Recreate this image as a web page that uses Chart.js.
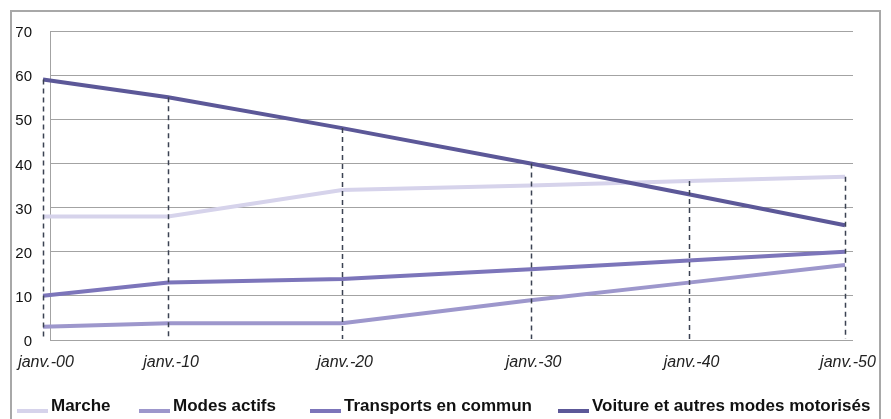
<!DOCTYPE html>
<html lang="fr">
<head>
    <meta charset="UTF-8">
    <title>Parts modales</title>
    <style>
        html, body {
            margin: 0;
            padding: 0;
            background: #ffffff;
            overflow: hidden;
        }
        .frame {
            position: absolute;
            left: 10px;
            top: 10px;
            width: 867px;
            height: 440px;
            border: 2px solid #a8a8a8;
        }
        #chart {
            position: absolute;
            left: 0;
            top: 0;
        }
        .legend {
            position: absolute;
            top: 396px;
            left: 0;
            font-family: "Liberation Sans", Arial, sans-serif;
            font-weight: bold;
            font-size: 17px;
            color: #111;
        }
        .legend-item {
            position: absolute;
            white-space: nowrap;
            display: flex;
            align-items: flex-end;
        }
        .legend-line {
            display: inline-block;
            width: 31px;
            height: 4px;
            margin-right: 3px;
            margin-bottom: 3px;
        }
    </style>
    <script src="https://cdn.jsdelivr.net/npm/chart.js"></script>
</head>
<body>
    <div class="frame"></div>
    <canvas id="chart" width="891" height="419"></canvas>
    <div class="legend" id="legend"></div>

    <script>
        // Axe des dates (espacement irrégulier comme sur l'axe d'origine)
        const xValues = [0, 15.6, 37.3, 60.8, 80.5, 100];
        const xLabels = ['janv.-00', 'janv.-10', 'janv.-20', 'janv.-30', 'janv.-40', 'janv.-50'];

        const seriesNames = ['Marche', 'Modes actifs', 'Transports en commun', 'Voiture et autres modes motorisés'];
        const marche = [28, 28, 34, 35, 36, 37];
        const modesActifs = [3, 3.8, 3.8, 9, 13, 17];
        const transports = [10, 13, 13.8, 16, 18, 20];
        const voiture = [59, 55, 48, 40, 33, 26];
        const seriesColors = ['#d6d3eb', '#9d97cc', '#7c75ba', '#5c5898'];

        const yTicks = [0, 10, 20, 30, 40, 50, 60, 70];

        const allSeries = [marche, modesActifs, transports, voiture];

        function toPoints(values) {
            return values.map((v, i) => ({ x: xValues[i], y: v }));
        }

        // Lignes de projection en pointillés (du point le plus haut jusqu'à l'axe)
        const dropLines = {
            id: 'dropLines',
            afterDatasetsDraw(chart) {
                const ctx = chart.ctx;
                const xs = chart.scales.x;
                const ys = chart.scales.y;
                ctx.save();
                ctx.strokeStyle = '#3b4252';
                ctx.lineWidth = 1.5;
                ctx.setLineDash([5, 4]);
                xValues.forEach((xv, i) => {
                    const top = Math.max(...allSeries.map(s => s[i]));
                    const px = Math.round(xs.getPixelForValue(xv)) + 0.5;
                    ctx.beginPath();
                    ctx.moveTo(px, ys.getPixelForValue(top));
                    ctx.lineTo(px, ys.getPixelForValue(0) - 1);
                    ctx.stroke();
                });
                ctx.restore();
            }
        };

        const chart = new Chart(document.getElementById('chart'), {
            type: 'line',
            data: {
                datasets: allSeries.map((s, i) => ({
                    label: seriesNames[i],
                    data: toPoints(s),
                    borderColor: seriesColors[i],
                    backgroundColor: seriesColors[i],
                    borderWidth: 4,
                    borderCapStyle: 'butt',
                    pointRadius: 0,
                    tension: 0,
                    clip: false,
                    order: 3 - i
                }))
            },
            options: {
                responsive: false,
                animation: false,
                layout: {
                    padding: { left: 0, right: 38, top: 31, bottom: 39 }
                },
                plugins: {
                    legend: { display: false },
                    tooltip: { enabled: false }
                },
                scales: {
                    x: {
                        type: 'linear',
                        min: 0.873,
                        max: 101.0,
                        afterBuildTicks(scale) {
                            scale.ticks = xValues.map(v => ({ value: v }));
                        },
                        afterFit(scale) {
                            scale.height = 40;
                        },
                        grid: { display: false, drawTicks: false },
                        border: { display: false },
                        ticks: {
                            autoSkip: false,
                            maxRotation: 0,
                            padding: 13,
                            labelOffset: 3,
                            color: '#222',
                            font: { family: '"Liberation Sans", Arial, sans-serif', size: 16, style: 'italic' },
                            callback: (value) => {
                                const i = xValues.indexOf(value);
                                return i >= 0 ? xLabels[i] : '';
                            }
                        }
                    },
                    y: {
                        min: 0,
                        max: 70,
                        afterBuildTicks(scale) {
                            scale.ticks = yTicks.map(v => ({ value: v }));
                        },
                        afterFit(scale) {
                            scale.width = 50;
                        },
                        grid: { color: '#a3a3a3', lineWidth: 1, drawTicks: false },
                        border: { display: true, color: '#a3a3a3', width: 1 },
                        ticks: {
                            padding: 18,
                            labelOffset: 2,
                            color: '#111',
                            font: { family: '"Liberation Sans", Arial, sans-serif', size: 15 }
                        }
                    }
                }
            },
            plugins: [dropLines]
        });

        // Légende en ligne sous le graphique
        const legendLeft = [17, 139, 310, 558];
        const legend = document.getElementById('legend');
        seriesNames.forEach((name, i) => {
            const item = document.createElement('div');
            item.className = 'legend-item';
            item.style.left = legendLeft[i] + 'px';
            item.innerHTML = `<span class="legend-line" style="background:${seriesColors[i]}"></span><span>${name}</span>`;
            legend.appendChild(item);
        });
    </script>
</body>
</html>
